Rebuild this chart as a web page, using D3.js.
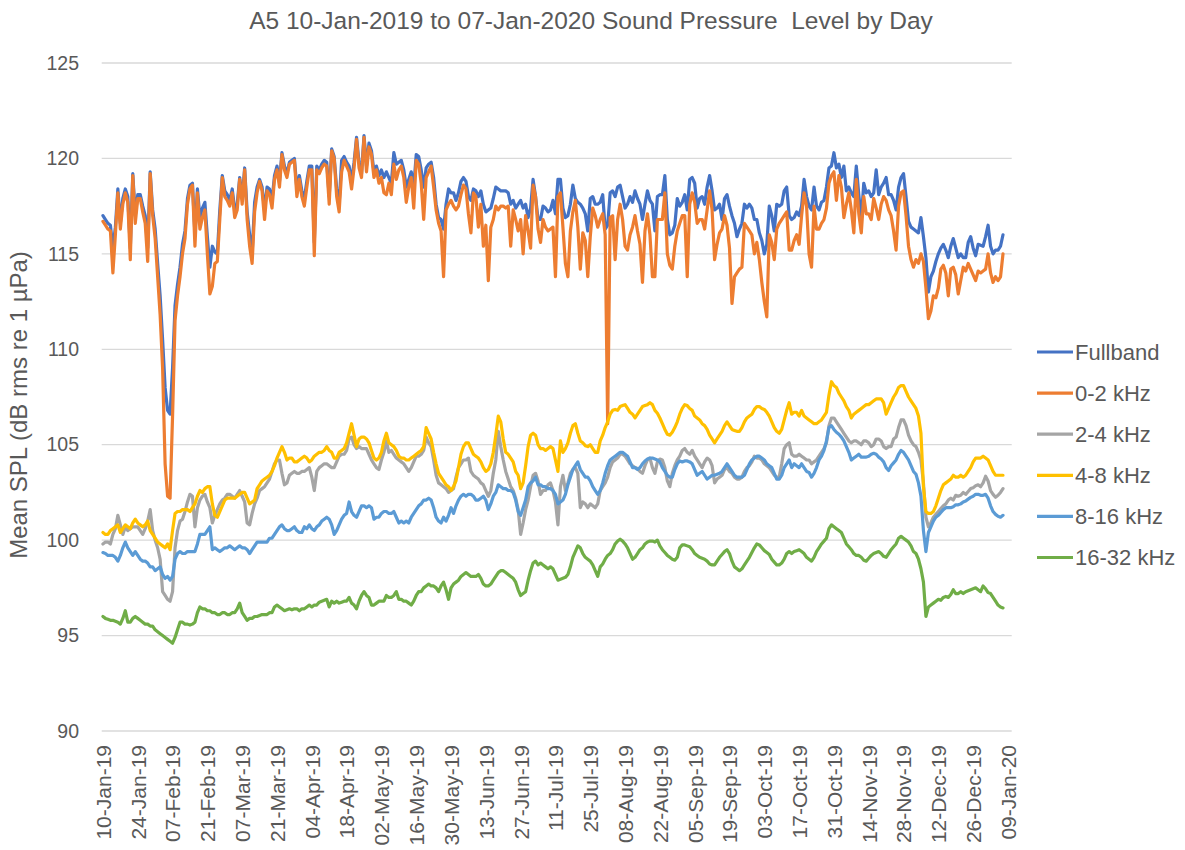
<!DOCTYPE html>
<html>
<head>
<meta charset="utf-8">
<script src="https://cdn.jsdelivr.net/npm/d3@7"></script>
<style>
  html, body { margin: 0; padding: 0; background: #ffffff; }
  svg { display: block; }
  text { font-family: "Liberation Sans", Arial, sans-serif; fill: #595959; }
</style>
</head>
<body>
<svg id="chart" width="1185" height="850"></svg>
<script>
// Daily mean SPL, station A5, 10-Jan-2019 .. 07-Jan-2020 (one value per day)
const firstDay = "10-Jan-19";
const lastDay = "07-Jan-20";

const seriesNames = ["Fullband", "0-2 kHz", "2-4 kHz", "4-8 kHz", "8-16 kHz", "16-32 kHz"];
const seriesColors = ["#4472C4", "#ED7D31", "#A5A5A5", "#FFC000", "#5B9BD5", "#70AD47"];

const fullband = [
117.0,116.8,116.6,116.5,115.3,116.4,118.4,116.6,117.9,118.4,
118.0,115.3,119.2,117.0,118.1,118.1,117.5,117.0,115.3,119.3,
117.3,116.3,114.5,112.8,110.5,108.0,106.8,106.6,109.0,112.3,
113.4,114.3,115.5,116.2,117.9,118.6,118.7,116.0,118.4,116.9,
117.4,117.7,115.9,114.3,115.4,115.1,115.0,117.3,119.1,118.3,
118.1,117.8,118.4,117.3,117.6,119.0,117.9,119.5,117.2,116.0,
115.0,117.7,118.5,118.9,118.5,117.3,118.5,118.4,117.8,119.1,
119.6,118.8,120.3,119.6,119.2,119.8,119.9,120.0,118.4,119.1,
118.3,117.9,118.8,119.6,119.6,115.6,119.6,119.4,119.7,119.9,
119.8,118.0,120.5,120.1,118.4,117.6,119.9,120.1,119.8,119.6,
118.8,119.8,121.1,119.8,119.2,121.2,119.6,120.8,120.4,119.3,
119.6,119.1,119.4,119.0,119.3,119.0,118.7,120.3,119.7,119.8,
119.9,119.4,118.5,118.9,119.3,118.5,120.2,120.1,119.4,118.5,
119.5,119.7,119.8,119.0,117.6,116.9,116.8,116.3,117.6,118.4,
118.2,118.2,117.8,118.2,118.8,119.0,118.8,118.0,117.8,118.4,
118.3,118.0,118.3,117.6,117.2,117.3,117.4,117.9,118.5,118.4,
118.3,118.3,118.3,118.2,117.6,117.8,117.4,117.6,117.8,117.4,
117.6,116.9,117.4,118.9,118.0,116.8,116.8,117.5,117.4,117.2,
117.3,117.8,117.1,118.9,118.9,117.4,116.9,117.0,117.6,118.6,
117.9,117.7,117.6,117.4,117.1,116.2,117.9,118.0,117.6,117.6,
117.7,118.1,116.3,116.5,118.2,118.3,118.0,118.5,118.6,118.0,
117.4,117.6,118.0,117.7,118.3,117.9,117.6,116.8,117.6,118.3,
117.8,117.6,116.2,118.0,118.1,118.1,119.1,116.8,116.0,116.1,
116.5,117.9,117.5,117.7,118.1,117.3,118.9,119.0,118.7,117.4,
117.9,118.0,117.6,118.5,119.1,118.3,117.3,117.4,117.6,116.8,
117.9,118.1,117.5,117.0,116.6,115.9,116.3,116.6,117.6,117.4,
117.6,117.4,116.8,116.8,116.1,115.7,115.0,115.5,117.5,117.0,
116.2,117.6,117.5,117.6,118.3,118.5,117.0,116.8,116.9,117.2,
117.0,117.5,118.9,118.0,117.5,117.3,118.5,117.5,117.3,117.7,
117.8,118.5,119.5,119.6,120.3,119.5,119.7,119.0,119.6,118.3,
118.5,118.2,118.0,119.6,118.1,116.8,118.7,118.2,118.3,118.0,
118.2,119.4,118.1,118.5,118.7,119.0,118.1,118.1,117.8,117.3,
118.5,119.0,119.2,118.0,116.7,116.4,116.3,116.2,116.1,116.9,
115.9,114.8,113.0,113.8,114.1,114.6,115.0,115.3,115.5,115.2,
114.8,115.4,115.8,115.3,114.8,115.0,114.8,114.8,115.6,115.9,
115.3,114.9,115.5,115.45,115.4,115.9,116.5,115.4,115.0,115.2,
115.2,115.4,116.0];

const band0to2 = [
116.7,116.5,116.3,116.2,114.0,116.0,118.2,116.3,117.6,118.2,
117.7,114.7,119.1,116.6,117.9,117.9,117.2,116.6,114.6,119.2,
117.0,115.8,113.8,111.8,109.0,104.0,102.3,102.2,106.5,111.5,
112.8,113.8,115.0,115.8,117.6,118.4,118.6,115.4,118.2,116.3,
116.9,117.3,115.0,112.9,113.3,114.5,114.6,116.8,119.0,118.0,
117.8,117.5,118.2,116.9,117.3,118.9,117.6,119.4,116.8,115.4,
114.5,117.2,118.2,118.8,118.3,116.8,118.3,118.1,117.4,118.9,
119.4,118.5,120.2,119.4,119.0,119.7,119.8,119.9,118.0,118.9,
118.0,117.5,118.5,119.4,119.4,114.9,119.4,119.2,119.5,119.7,
119.6,117.6,120.4,120.0,118.0,117.2,119.3,119.9,119.6,119.3,
118.4,119.5,121.0,119.5,119.0,121.1,119.3,120.6,120.2,119.0,
119.4,118.7,119.0,118.2,118.1,118.7,118.1,119.7,118.9,119.4,
119.6,119.0,117.7,118.5,119.0,117.4,119.9,119.7,118.7,116.8,
119.0,119.3,119.6,118.5,117.3,116.6,116.2,113.8,117.3,117.6,
117.8,117.5,117.3,117.5,118.1,118.6,118.4,117.1,116.1,118.2,
118.0,116.4,117.6,115.4,116.5,113.6,116.4,116.8,117.5,117.3,
117.5,117.5,117.4,117.5,115.4,117.3,116.8,116.2,116.8,115.0,
117.0,116.2,115.3,118.6,118.0,116.3,115.6,116.8,116.4,116.2,
116.3,116.4,113.8,118.0,118.2,116.4,114.5,113.8,116.2,117.2,
117.8,116.4,114.2,116.1,115.7,113.8,115.9,117.4,117.0,116.4,
116.8,117.1,116.0,106.1,116.9,117.0,114.7,116.8,117.6,116.8,
115.4,115.2,116.0,116.4,117.0,116.2,115.5,113.5,116.2,117.1,
116.0,113.8,113.8,116.8,116.8,116.8,118.2,115.0,114.4,114.2,
115.4,116.2,116.6,117.0,117.0,113.8,117.6,118.2,117.7,116.6,
116.8,116.8,116.3,117.3,118.3,117.3,114.7,115.5,116.1,116.3,
117.0,116.5,115.3,112.4,113.8,114.0,114.2,114.3,116.6,116.4,
116.2,116.0,115.0,115.6,114.7,113.5,112.5,111.7,116.0,115.6,
114.7,116.3,116.6,116.8,117.0,117.2,115.2,115.2,115.7,116.0,
115.5,117.0,118.2,117.5,115.0,114.3,117.5,116.3,116.3,116.6,
116.8,117.4,118.7,119.1,119.3,117.8,119.1,118.5,116.9,117.6,
118.2,117.3,116.1,118.9,117.1,116.1,118.0,117.1,117.1,116.8,
117.9,117.4,116.8,117.6,118.0,117.8,117.3,117.0,116.2,115.2,
117.5,118.2,118.3,117.0,115.4,114.7,114.3,114.7,114.5,115.0,
114.6,113.2,111.6,112.0,112.8,112.7,113.2,114.2,114.4,114.0,
112.8,114.2,114.3,113.9,112.9,113.6,114.3,114.1,114.5,114.2,
113.9,113.6,114.1,114.0,114.1,114.2,115.0,114.0,113.5,113.8,
113.6,113.8,115.0];

const band2to4 = [
99.8,99.9,99.9,99.8,100.3,100.6,101.3,100.8,100.3,100.7,
100.5,100.6,100.7,100.7,100.7,100.5,100.3,100.6,101.0,101.6,
100.5,100.0,99.6,99.0,97.3,97.1,96.9,96.8,97.3,99.6,
100.5,101.0,101.1,101.5,102.0,102.4,102.3,100.7,101.7,102.1,
102.3,102.4,102.0,101.7,100.9,101.3,101.6,101.9,102.1,102.2,
102.4,102.4,102.3,102.2,102.4,102.6,102.3,102.0,100.9,100.8,
101.4,101.9,102.2,102.6,102.7,102.8,103.0,103.2,103.6,104.0,
104.2,104.2,103.5,102.9,103.0,103.4,103.5,103.6,103.5,103.5,
103.6,103.6,103.7,103.8,103.3,102.6,103.6,103.8,103.9,104.0,
104.0,103.9,103.8,103.8,104.1,104.4,104.5,104.5,104.7,105.3,
105.4,105.0,104.8,104.9,104.8,104.8,104.8,104.5,104.2,104.0,
103.8,103.7,104.2,104.6,105.2,104.6,104.7,104.5,104.3,104.2,
104.1,104.0,103.8,103.6,103.8,104.1,104.4,104.4,104.5,104.7,
105.4,105.1,104.9,104.2,103.4,103.0,102.9,102.8,102.7,102.5,
102.6,102.7,103.3,103.8,104.0,104.2,104.2,104.3,103.6,103.4,
103.3,103.2,103.0,102.9,102.6,102.3,102.6,103.5,104.2,105.7,
104.9,104.2,103.6,103.2,102.8,102.6,102.2,101.6,100.3,100.9,
101.6,102.1,102.8,103.4,103.5,103.1,102.4,102.6,102.6,102.9,
103.0,102.6,102.0,100.8,102.8,103.4,102.6,103.0,103.5,103.7,
103.8,103.5,101.7,102.0,101.9,101.7,101.9,101.8,101.7,101.9,
102.6,102.8,103.0,103.3,103.8,104.1,104.2,104.3,104.5,104.5,
104.4,104.2,104.0,103.9,103.8,103.75,103.6,103.5,103.9,104.2,
104.3,103.8,103.5,104.1,104.25,104.2,103.8,103.1,102.8,103.5,
103.9,104.2,104.4,104.7,104.8,104.6,104.5,104.7,104.4,104.2,
104.0,103.8,104.1,104.3,104.2,103.9,103.0,103.2,103.3,103.4,
103.7,103.8,103.6,103.5,103.3,103.2,103.2,103.3,103.6,103.8,
103.9,104.1,104.4,104.3,104.3,104.2,104.0,103.9,103.8,103.6,
103.4,103.3,103.3,104.0,104.8,105.0,105.1,104.5,104.4,104.4,
104.5,104.4,104.3,104.2,104.2,104.0,104.1,104.2,104.4,104.6,
104.8,105.1,106.0,106.4,106.4,106.2,106.0,105.8,105.6,105.4,
105.2,105.1,105.2,105.2,105.1,105.0,105.2,105.2,105.1,104.9,
105.0,105.3,105.3,105.2,104.9,104.8,104.9,104.9,105.3,105.4,
105.9,106.3,106.3,106.0,105.5,105.2,105.0,104.9,104.6,104.2,
103.0,101.2,100.7,100.9,101.2,101.35,101.5,101.65,101.8,101.9,
102.1,102.2,102.1,102.35,102.3,102.35,102.5,102.4,102.55,102.7,
102.75,102.85,102.9,102.8,103.0,103.35,103.1,102.6,102.4,102.25,
102.35,102.5,102.7];

const band4to8 = [
100.4,100.3,100.3,100.5,100.6,100.7,100.8,100.4,100.6,100.8,
100.7,100.6,100.9,101.1,100.9,100.8,100.7,100.8,101.0,100.5,
100.3,100.1,99.9,99.8,99.7,99.6,99.8,99.5,100.5,101.4,
101.5,101.5,101.6,101.6,101.6,101.5,101.7,101.9,102.3,102.6,
102.5,102.7,102.8,102.8,101.9,101.3,101.2,101.5,101.8,102.1,
102.2,102.2,102.2,102.2,102.3,102.4,102.5,102.5,102.2,101.9,
102.0,102.1,102.7,102.9,103.1,103.2,103.3,103.4,103.6,103.9,
104.3,104.6,104.9,104.6,104.2,104.3,104.3,104.1,104.1,104.2,
104.3,104.4,104.3,104.1,104.2,104.4,104.5,104.6,104.6,104.7,
104.9,104.7,104.6,104.3,104.3,104.6,104.7,104.8,105.1,105.6,
106.1,105.5,104.9,105.3,105.4,105.4,105.3,105.1,104.7,104.3,
104.2,104.3,104.6,105.2,105.6,105.1,105.0,104.9,104.7,104.4,
104.3,104.3,104.2,104.2,104.3,104.4,104.5,104.6,104.7,104.9,
105.9,105.6,105.3,104.6,104.0,103.5,103.3,103.1,102.9,102.8,
102.6,102.8,103.1,103.8,104.5,104.9,105.1,105.1,104.8,104.5,
104.4,104.3,104.1,103.8,103.6,103.7,104.0,104.6,105.5,106.5,
106.2,105.3,104.6,104.5,104.3,104.1,103.6,103.4,102.7,103.0,
103.9,104.9,105.5,105.6,105.5,105.0,104.8,104.8,104.7,104.8,
104.9,104.8,104.2,103.6,105.2,104.6,104.8,105.1,105.6,106.0,
106.1,105.6,105.2,105.1,104.95,104.9,105.0,104.8,104.6,104.6,
105.2,105.5,105.9,106.2,106.6,106.8,106.85,106.8,107.0,107.05,
107.1,106.9,106.7,106.6,106.4,106.6,106.8,107.0,107.05,107.1,
107.2,107.1,106.8,106.65,106.4,106.1,105.8,105.55,105.5,105.65,
105.9,106.2,106.6,106.9,107.1,107.05,106.9,106.8,106.5,106.4,
106.3,106.1,106.0,105.8,105.5,105.3,105.1,105.3,105.5,105.7,
106.0,106.2,106.0,105.8,105.75,105.7,105.7,105.9,106.2,106.4,
106.5,106.6,106.85,107.0,107.0,106.9,106.85,106.7,106.5,106.2,
105.9,105.7,105.6,105.8,106.3,106.8,107.2,106.6,106.7,106.7,
106.5,106.8,106.5,106.4,106.3,106.2,106.1,106.1,106.2,106.3,
106.5,106.7,107.6,108.3,108.1,108.0,107.7,107.5,107.3,107.0,
106.8,106.4,106.6,106.7,106.8,106.9,107.0,107.1,107.1,107.2,
107.3,107.4,107.4,107.4,107.2,106.6,106.9,107.2,107.5,107.7,
108.0,108.1,108.1,107.8,107.5,107.3,107.1,106.9,106.5,105.6,
102.8,101.5,101.4,101.4,101.5,101.8,102.2,102.6,102.9,103.0,
103.1,103.2,103.4,103.3,103.3,103.4,103.3,103.4,103.6,103.8,
104.1,104.3,104.3,104.3,104.4,104.3,104.2,103.9,103.6,103.4,
103.4,103.4,103.4];

const band8to16 = [
99.35,99.3,99.2,99.2,99.2,99.1,98.9,99.2,99.6,99.9,
99.6,99.4,99.2,99.4,99.2,99.0,98.9,98.9,98.8,98.6,
98.6,98.4,98.5,98.6,98.2,98.0,98.1,97.9,98.1,99.0,
99.3,99.4,99.3,99.3,99.4,99.4,99.4,99.4,99.8,100.3,
100.3,100.3,100.5,100.7,99.5,99.6,99.5,99.4,99.5,99.6,
99.6,99.7,99.6,99.5,99.6,99.7,99.6,99.6,99.5,99.3,
99.5,99.7,99.9,99.9,99.9,99.9,99.9,100.1,100.1,100.3,
100.5,100.7,100.8,100.6,100.5,100.5,100.6,100.7,100.5,100.4,
100.4,100.7,100.6,100.8,100.6,100.5,100.7,100.8,101.0,101.1,
101.2,101.1,100.8,100.3,100.5,100.8,101.1,101.3,101.4,102.0,
101.5,101.3,101.2,101.5,101.8,101.8,101.7,101.8,101.7,101.1,
101.2,101.2,101.4,101.5,101.5,101.4,101.4,101.5,101.2,100.9,
101.0,100.9,101.0,100.9,101.2,101.4,101.6,101.8,101.9,102.1,
102.1,102.2,102.1,101.7,101.2,101.0,100.9,101.2,101.0,101.3,
101.7,101.4,101.8,102.1,102.3,102.4,102.3,102.4,102.4,102.3,
102.1,102.1,102.2,102.3,102.1,101.6,101.9,102.3,102.5,102.9,
102.8,102.7,102.7,102.6,102.6,102.5,102.1,101.5,101.3,101.7,
102.1,102.8,103.0,103.1,103.3,102.9,102.9,102.8,102.8,102.7,
102.7,102.6,102.4,101.9,102.0,102.1,102.4,102.9,103.3,103.7,
103.9,104.1,103.7,103.5,103.3,103.3,103.1,102.8,102.6,102.4,
102.6,103.0,103.5,103.9,104.2,104.3,104.4,104.5,104.6,104.6,
104.5,104.4,104.1,103.8,103.8,103.7,103.8,104.0,104.15,104.25,
104.3,104.3,104.25,104.2,104.1,103.8,103.6,103.4,103.3,103.3,
103.7,104.0,104.15,104.1,104.15,104.15,104.1,104.0,103.7,103.4,
103.5,103.6,103.4,103.2,103.3,103.4,103.4,103.45,103.5,103.6,
103.8,104.0,103.8,103.6,103.4,103.3,103.3,103.3,103.4,103.7,
104.0,104.2,104.3,104.4,104.4,104.3,104.2,104.0,103.9,103.8,
103.5,103.2,103.2,103.4,103.8,104.0,104.2,103.8,104.0,103.9,
103.8,104.0,103.8,103.6,103.55,103.3,103.5,103.8,104.2,104.4,
104.7,105.2,105.9,106.0,105.8,105.65,105.55,105.4,105.2,104.9,
104.6,104.2,104.3,104.4,104.5,104.35,104.35,104.35,104.4,104.5,
104.55,104.5,104.35,104.25,104.1,103.8,103.65,103.9,104.05,104.2,
104.5,104.7,104.6,104.4,104.2,103.9,103.6,103.45,103.0,102.3,
100.5,99.4,100.4,100.7,101.0,101.2,101.3,101.45,101.6,101.7,
101.7,101.7,101.75,101.85,101.85,101.9,102.0,102.05,102.15,102.24,
102.3,102.4,102.4,102.35,102.35,102.4,102.2,101.8,101.5,101.35,
101.25,101.2,101.3];

const band16to32 = [
96.0,95.9,95.85,95.8,95.8,95.75,95.7,95.6,95.9,96.3,
95.7,95.7,95.9,96.0,95.9,95.8,95.7,95.6,95.6,95.5,
95.5,95.3,95.2,95.1,95.0,94.9,94.8,94.7,94.6,94.9,
95.3,95.7,95.7,95.6,95.6,95.55,95.6,95.7,96.2,96.5,
96.4,96.4,96.3,96.3,96.2,96.2,96.1,96.1,96.2,96.2,
96.1,96.1,96.2,96.2,96.4,96.7,96.2,96.0,95.8,95.9,
95.9,96.0,96.0,96.05,96.1,96.1,96.1,96.2,96.2,96.5,
96.6,96.5,96.4,96.3,96.35,96.4,96.35,96.4,96.4,96.3,
96.4,96.4,96.5,96.6,96.5,96.6,96.6,96.75,96.8,96.85,
96.9,96.5,96.8,96.7,96.8,96.7,96.75,96.8,96.8,97.0,
96.7,96.6,96.4,96.8,97.1,97.3,97.1,97.0,96.6,96.6,
96.7,96.8,96.8,96.8,97.1,97.0,97.0,97.1,97.3,96.9,
96.9,96.8,96.8,96.7,96.6,96.8,97.1,97.3,97.3,97.5,
97.6,97.7,97.6,97.6,97.5,97.3,97.6,97.8,97.4,96.9,
97.5,97.7,97.8,97.9,98.1,98.2,98.3,98.2,98.1,98.1,
98.1,98.2,98.0,97.7,97.6,97.6,97.7,97.9,98.1,98.3,
98.4,98.4,98.3,98.2,98.1,98.0,97.8,97.4,97.1,97.2,
97.3,97.9,98.4,98.8,98.9,98.7,98.8,98.7,98.6,98.5,
98.6,98.5,98.2,97.9,97.95,98.0,98.05,98.2,98.6,99.1,
99.4,99.7,99.6,99.3,99.1,99.0,98.9,98.7,98.4,98.1,
98.6,98.75,99.0,99.2,99.3,99.5,99.8,99.95,100.05,99.95,
99.8,99.6,99.3,99.0,99.1,99.3,99.5,99.6,99.8,99.9,
99.95,99.95,99.9,100.0,99.7,99.5,99.35,99.2,99.1,99.0,
98.95,99.1,99.6,99.75,99.75,99.7,99.65,99.5,99.3,99.2,
99.1,99.05,99.0,98.9,98.75,98.7,98.7,98.9,99.1,99.25,
99.4,99.5,99.3,98.9,98.6,98.5,98.4,98.5,98.7,98.9,
99.1,99.35,99.6,99.8,99.75,99.6,99.45,99.35,99.25,99.0,
98.85,98.7,98.7,98.8,99.0,99.3,99.4,99.3,99.4,99.45,
99.5,99.4,99.3,99.1,99.0,98.9,99.1,99.4,99.6,99.8,
99.95,100.1,100.6,100.8,100.7,100.6,100.5,100.4,100.1,99.8,
99.65,99.5,99.3,99.2,99.2,99.1,98.95,98.9,99.05,99.2,
99.3,99.35,99.4,99.3,99.15,99.1,99.3,99.5,99.65,99.8,
100.1,100.2,100.1,100.0,99.9,99.7,99.4,99.3,99.0,98.5,
97.8,96.0,96.5,96.6,96.7,96.8,96.9,96.85,97.0,97.05,
97.0,97.15,97.4,97.2,97.2,97.3,97.2,97.3,97.35,97.4,
97.45,97.5,97.4,97.3,97.6,97.45,97.25,97.2,97.0,96.8,
96.6,96.5,96.45];

const seriesValues = [fullband, band0to2, band2to4, band4to8, band8to16, band16to32];

// Category (date) axis labels, every 14 days
const tickLabels = ["10-Jan-19","24-Jan-19","07-Feb-19","21-Feb-19","07-Mar-19","21-Mar-19",
  "04-Apr-19","18-Apr-19","02-May-19","16-May-19","30-May-19","13-Jun-19","27-Jun-19",
  "11-Jul-19","25-Jul-19","08-Aug-19","22-Aug-19","05-Sep-19","19-Sep-19","03-Oct-19",
  "17-Oct-19","31-Oct-19","14-Nov-19","28-Nov-19","12-Dec-19","26-Dec-19","09-Jan-20"];
const yTicks = [90, 95, 100, 105, 110, 115, 120, 125];

const title = "A5 10-Jan-2019 to 07-Jan-2020 Sound Pressure  Level by Day";
const yTitle = "Mean SPL (dB rms re 1 \u00B5Pa)";

const parse = d3.utcParse("%d-%b-%y");
const fmt = d3.utcFormat("%d-%b-%y");
const start = parse(firstDay);
const days = d3.utcDay.range(start, d3.utcDay.offset(parse(lastDay), 1));
const tickDates = tickLabels.map(parse);

const plot = { left: 101.7, right: 1011.7, top: 63, bottom: 731 };

// each day occupies one slot; points sit in the slot centre
const x = d3.scaleUtc()
  .domain([d3.utcHour.offset(start, -12), d3.utcHour.offset(d3.utcDay.offset(tickDates[tickDates.length - 1], 1), 12)])
  .range([plot.left, plot.right]);
const y = d3.scaleLinear().domain([90, 125]).range([plot.bottom, plot.top]);

const svg = d3.select("#chart");

svg.append("text")
  .attr("x", 591).attr("y", 29)
  .attr("text-anchor", "middle")
  .style("font-size", "24.5px")
  .style("white-space", "pre")
  .text(title);

// horizontal gridlines (the 90 line doubles as the category axis)
svg.append("g")
  .selectAll("line")
  .data(yTicks)
  .join("line")
  .attr("x1", plot.left).attr("x2", plot.right)
  .attr("y1", d => y(d)).attr("y2", d => y(d))
  .attr("stroke", "#D9D9D9")
  .attr("stroke-width", 1.3);

const yAxis = d3.axisLeft(y).tickValues(yTicks).tickSize(0).tickPadding(0);
svg.append("g")
  .attr("transform", "translate(79,0)")
  .call(yAxis)
  .call(g => g.select(".domain").remove())
  .call(g => g.selectAll("text")
    .attr("fill", "#595959")
    .style("font-size", "19.5px")
    .style("font-family", "'Liberation Sans', Arial, sans-serif"));

const xAxis = d3.axisBottom(x).tickValues(tickDates).tickFormat(fmt).tickSize(0).tickPadding(0);
svg.append("g")
  .attr("transform", `translate(0,${plot.bottom})`)
  .call(xAxis)
  .call(g => g.select(".domain").remove())
  .call(g => g.selectAll("text")
    .attr("fill", "#595959")
    .attr("transform", "translate(0,14) rotate(-90)")
    .attr("text-anchor", "end")
    .attr("x", 0).attr("y", 0).attr("dy", "0.35em")
    .style("font-size", "21px")
    .style("font-family", "'Liberation Sans', Arial, sans-serif"));

svg.append("text")
  .attr("transform", "translate(19,405) rotate(-90)")
  .attr("text-anchor", "middle")
  .attr("dy", "0.35em")
  .style("font-size", "24px")
  .text(yTitle);

const line = d3.line()
  .x((d, i) => x(days[i]))
  .y(d => y(d));

svg.append("g")
  .selectAll("path")
  .data(seriesValues)
  .join("path")
  .attr("d", d => line(d))
  .attr("fill", "none")
  .attr("stroke", (d, i) => seriesColors[i])
  .attr("stroke-width", 3.2)
  .attr("stroke-linejoin", "round")
  .attr("stroke-linecap", "round");

const legend = svg.append("g").attr("transform", "translate(1037,352)");
const item = legend.selectAll("g")
  .data(seriesNames)
  .join("g")
  .attr("transform", (d, i) => `translate(0,${i * 41.1})`);
item.append("line")
  .attr("x1", 0).attr("x2", 36)
  .attr("stroke", (d, i) => seriesColors[i])
  .attr("stroke-width", 3.2);
item.append("text")
  .attr("x", 38).attr("dy", "0.35em")
  .style("font-size", "22px")
  .text(d => d);
</script>
</body>
</html>
